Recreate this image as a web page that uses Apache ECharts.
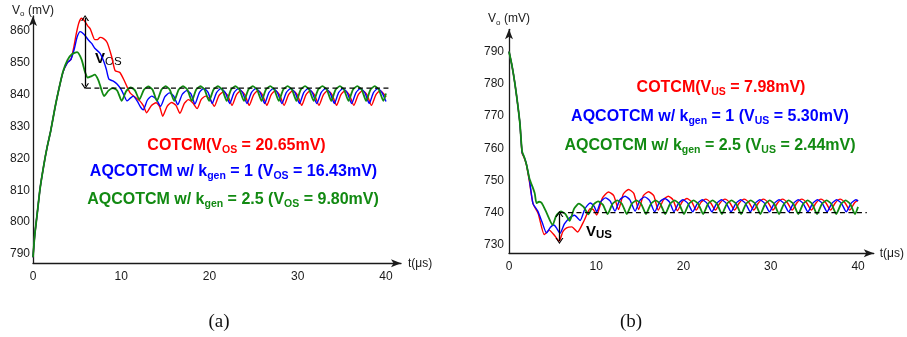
<!DOCTYPE html>
<html><head><meta charset="utf-8">
<script src="https://cdn.jsdelivr.net/npm/echarts@6/dist/echarts.min.js"></script>
<style>html,body{margin:0;padding:0;background:#fff}#c{width:907px;height:337px}</style>
</head><body><div id="c"></div>
<script>
// ---------- tick labels ----------
const ticksAx = [0, 10, 20, 30, 40];
const ticksAy = [790, 800, 810, 820, 830, 840, 850, 860];
const ticksBx = [0, 10, 20, 30, 40];
const ticksBy = [730, 740, 750, 760, 770, 780, 790];

// ---------- reference levels / annotation points (t in us, V in mV) ----------
const dashA = [[6.0, 842], [40.45, 842]];
const arrowA = [[5.9, 864.0], [5.9, 842.6]];
const dashB = [[5.78, 740], [41.0, 740]];
const arrowB = [[5.78, 739.6], [5.78, 731.2]];

// ---------- (a) load step-down : overshoot ----------
const redA = [[0,789],[0.2,796],[0.45,802],[0.8,810.5],[1.2,817.5],[1.6,823.5],[2.0,828.5],[2.5,836],[2.9,841.3],[3.4,847],[3.9,850],[4.3,851],[4.6,854.5],[4.9,859],[5.2,862.5],[5.5,863.9],[5.85,863],[6.2,861.5],[6.5,860.5],[7.0,857.2],[7.3,857.2],[7.6,857.9],[8.0,857.5],[8.4,856.3],[8.9,852],[9.3,847.5],[9.85,846.9],[10.4,844],[11.0,840.5],[11.55,839.2],[12.1,838],[12.5,836.5],[12.88,834.3],
[13.4,836.5],[13.95,837.4],[14.35,836.2],[14.7,833.2],
[15.2,836.3],[15.7,837.5],[16.2,836.6],[16.65,834.1],
[17.15,837.2],[17.6,838.4],[18.1,837.4],[18.6,835.6],
[19.05,838.4],[19.55,839.5],[20.05,838.6],[20.55,836.3],
[21.05,839.6],[21.55,840.8],[22.05,839.8],[22.55,836.6],
[23.05,839.9],[23.55,841.2],[24.02,839.9],[24.5,836.6],
[25.0,839.9],[25.5,841.2],[26.0,839.9],[26.5,836.6],
[26.98,839.9],[27.48,841.2],[27.95,839.9],[28.45,836.6],
[28.95,839.9],[29.45,841.2],[29.95,839.9],[30.45,836.6],
[30.93,839.9],[31.43,841.2],[31.9,839.9],[32.4,836.6],
[32.9,839.9],[33.4,841.2],[33.9,839.9],[34.4,836.6],
[34.88,839.9],[35.38,841.2],[35.85,839.9],[36.35,836.6],
[36.85,839.9],[37.35,841.2],[37.85,839.9],[38.35,836.6],
[38.85,839.9],[39.35,841.2],[39.85,839.9],[40,839.2]];

const blueA = [[0,789],[0.2,796],[0.45,802],[0.8,810.5],[1.2,817.5],[1.6,823.5],[2.0,828.5],[2.5,836],[2.9,841.3],[3.4,847],[3.9,850],[4.3,851],[4.7,854.5],[5.0,858],[5.35,859.7],[5.8,858.8],[6.3,857],[6.65,856],[7.0,854.5],[7.6,852.9],[8.0,850.5],[8.3,848],[8.6,844.8],[9.1,844.2],[9.55,843.2],[10.0,841.5],[10.3,839.8],[10.65,838],[11.0,838.8],[11.35,839.5],[11.8,838],[12.2,836],[12.5,835.2],
[12.95,838.2],[13.45,839.5],[13.95,838.6],[14.45,836.3],
[14.95,839.3],[15.45,840.5],[15.95,839.5],[16.4,836.8],
[16.9,840],[17.4,841.2],[17.9,840.2],[18.35,837],
[18.85,840.6],[19.35,841.9],[19.85,840.6],[20.3,837.2],
[20.8,840.6],[21.3,841.9],[21.8,840.6],[22.3,837.2],
[22.78,840.6],[23.28,841.9],[23.75,840.6],[24.25,837.2],
[24.75,840.6],[25.25,841.9],[25.75,840.6],[26.25,837.2],
[26.73,840.6],[27.23,841.9],[27.7,840.6],[28.2,837.2],
[28.7,840.6],[29.2,841.9],[29.7,840.6],[30.2,837.2],
[30.68,840.6],[31.18,841.9],[31.65,840.6],[32.15,837.2],
[32.65,840.6],[33.15,841.9],[33.65,840.6],[34.15,837.2],
[34.63,840.6],[35.13,841.9],[35.6,840.6],[36.1,837.2],
[36.6,840.6],[37.1,841.9],[37.6,840.6],[38.1,837.2],
[38.58,840.6],[39.08,841.9],[39.55,840.6],[40,837.8]];

const greenA = [[0,789],[0.2,796],[0.45,802],[0.8,810.5],[1.2,817.5],[1.6,823.5],[2.0,828.5],[2.5,836],[2.9,841.3],[3.4,847.2],[3.9,850.8],[4.4,852.6],[5.0,853.3],[5.5,851],[5.9,847],[6.2,845.3],[6.6,845.7],[7.0,846.2],[7.4,844.5],[7.7,842],[8.05,839.5],
[8.55,841.2],[9.05,842],[9.55,841.2],[10.05,838],
[10.55,841],[11.05,842.2],[11.55,841.3],[12.05,838.4],
[12.55,841.4],[13.05,842.5],[13.55,841.5],[14.05,838],
[14.55,841.5],[15.03,842.6],[15.5,841.5],[16.0,838],
[16.5,841.5],[17.0,842.6],[17.5,841.5],[18.0,838],
[18.48,841.5],[18.98,842.6],[19.45,841.5],[19.95,838],
[20.45,841.5],[20.95,842.6],[21.45,841.5],[21.95,838],
[22.43,841.5],[22.93,842.6],[23.4,841.5],[23.9,838],
[24.4,841.5],[24.9,842.6],[25.4,841.5],[25.9,838],
[26.38,841.5],[26.88,842.6],[27.35,841.5],[27.85,838],
[28.35,841.5],[28.85,842.6],[29.35,841.5],[29.85,838],
[30.33,841.5],[30.83,842.6],[31.3,841.5],[31.8,838],
[32.3,841.5],[32.8,842.6],[33.3,841.5],[33.8,838],
[34.28,841.5],[34.78,842.6],[35.25,841.5],[35.75,838],
[36.25,841.5],[36.75,842.6],[37.25,841.5],[37.75,838],
[38.23,841.5],[38.73,842.6],[39.2,841.5],[39.7,838],
[40,840.3]];

// ---------- (b) load step-up : undershoot ----------
const redB = [[0,790],[0.35,785.5],[0.68,780],[1.0,773.5],[1.25,767.7],[1.5,758.5],[1.75,757],[2.0,754.8],[2.35,749.5],[2.75,742.8],[3.35,739.7],[4.05,733.2],[4.6,734.6],[5.2,733],[5.75,731.2],[6.15,734],[6.6,735.3],[7.2,735.6],[7.85,734],[8.6,737.5],[9.3,741.2],[9.65,741],[10.05,739.3],
[10.7,744.5],[11.4,746.4],[12.0,745.3],[12.55,741],
[13.1,745.8],[13.7,747.2],[14.3,746],[14.85,741],
[15.4,745.3],[16.0,746.5],[16.6,745.2],[17.1,740.8],
[17.7,744],[18.25,745.1],[18.8,744],[19.3,740.6],
[19.85,743.4],[20.4,744.4],[20.95,743.3],[21.45,740.8],
[22.0,743.2],[22.55,744.2],[23.1,743.1],[23.65,740.8],
[24.2,743.1],[24.75,744.2],[25.3,743.1],[25.85,740.8],
[26.4,743.1],[26.95,744.2],[27.5,743.1],[28.05,740.8],
[28.6,743.1],[29.15,744.2],[29.7,743.1],[30.25,740.8],
[30.8,743.1],[31.35,744.2],[31.9,743.1],[32.45,740.8],
[33.0,743.1],[33.55,744.2],[34.1,743.1],[34.65,740.8],
[35.2,743.1],[35.75,744.2],[36.3,743.1],[36.85,740.8],
[37.4,743.1],[37.95,744.2],[38.5,743.1],[39.05,740.8],
[39.6,743.1],[40,743.9]];

const blueB = [[0,790],[0.35,785.5],[0.68,780],[1.0,773.5],[1.25,767.7],[1.5,758.7],[1.75,757.2],[2.0,755],[2.35,750],[2.75,742.8],[3.3,740.5],[3.8,737],[4.3,733.7],[4.75,735.5],[5.15,736.2],[5.5,735],[5.85,733.6],[6.35,736.5],[6.9,738.3],[7.5,739.2],[8.15,737.6],[8.7,741.2],[9.3,743],[9.75,742],[10.05,740.3],
[10.5,743.4],[11.05,744.6],[11.6,743.6],[12.15,740.5],
[12.7,744],[13.3,745.1],[13.85,744],[14.45,740.5],
[15.0,743.8],[15.55,744.9],[16.1,743.8],[16.7,740.3],
[17.25,743.3],[17.85,744.4],[18.4,743.3],[18.9,740.3],
[19.45,743],[19.95,744],[20.5,742.9],[21.05,740.3],
[21.6,742.9],[22.15,744],[22.7,742.9],[23.25,740.3],
[23.8,742.9],[24.35,744],[24.9,742.9],[25.45,740.3],
[26.0,742.9],[26.55,744],[27.1,742.9],[27.65,740.3],
[28.2,742.9],[28.75,744],[29.3,742.9],[29.85,740.3],
[30.4,742.9],[30.95,744],[31.5,742.9],[32.05,740.3],
[32.6,742.9],[33.15,744],[33.7,742.9],[34.25,740.3],
[34.8,742.9],[35.35,744],[35.9,742.9],[36.45,740.3],
[37.0,742.9],[37.55,744],[38.1,742.9],[38.65,740.3],
[39.2,742.9],[39.75,744],[40,743.6]];

const greenB = [[0,790],[0.35,785.5],[0.68,780],[1.0,773.5],[1.25,767.7],[1.5,759],[1.75,757.2],[2.0,755],[2.35,750.5],[2.7,748],[2.95,746],[3.15,743],[3.45,743.4],[3.75,743],[4.3,740],[5.0,736.2],
[5.4,739],[5.95,740.4],[6.45,739.6],[6.95,737.5],
[7.45,741.2],[8.0,742.8],[8.55,741.8],[9.1,739.5],
[9.65,742.4],[10.2,743.5],[10.75,742.5],[11.3,739.6],
[11.85,742.7],[12.4,743.8],[12.95,742.7],[13.5,739.6],
[14.05,742.7],[14.6,743.8],[15.15,742.7],[15.7,739.6],
[16.25,742.7],[16.8,743.8],[17.35,742.7],[17.9,739.6],
[18.45,742.7],[18.98,743.8],[19.5,742.7],[20.05,739.6],
[20.6,742.7],[21.15,743.8],[21.7,742.7],[22.25,739.6],
[22.8,742.7],[23.33,743.8],[23.85,742.7],[24.4,739.6],
[24.95,742.7],[25.5,743.8],[26.05,742.7],[26.6,739.6],
[27.15,742.7],[27.7,743.8],[28.25,742.7],[28.8,739.6],
[29.35,742.7],[29.88,743.8],[30.4,742.7],[30.95,739.6],
[31.5,742.7],[32.05,743.8],[32.6,742.7],[33.15,739.6],
[33.7,742.7],[34.23,743.8],[34.75,742.7],[35.3,739.6],
[35.85,742.7],[36.4,743.8],[36.95,742.7],[37.5,739.6],
[38.05,742.7],[38.58,743.8],[39.1,742.7],[39.65,739.6],
[40,741.8]];

// ---------- styling ----------
const FONT = "'Liberation Sans', Arial, sans-serif";
const RED = '#ff0000', BLUE = '#0000ff', GREEN = '#128a12', AX = '#1a1a1a';
const chevron = 'path://M0,10L5,0L10,10L8.4,10L5,3.2L1.6,10Z';

function xAxisCfg(grid, max, ticks, gap) {
  return {
    type: 'value', gridIndex: grid, min: 0, max: max,
    name: 't(\u03bcs)', nameLocation: 'end', nameGap: gap,
    nameTextStyle: { fontFamily: FONT, fontSize: 12, color: AX },
    axisLine: { show: true, symbol: ['none', 'arrow'], symbolSize: [6, 10], lineStyle: { color: AX, width: 1.3 } },
    axisTick: { show: false }, splitLine: { show: false },
    axisLabel: { customValues: ticks, fontFamily: FONT, fontSize: 12, color: AX, margin: 7 }
  };
}
function yAxisCfg(grid, min, max, ticks, gap, lm) {
  return {
    type: 'value', gridIndex: grid, min: min, max: max,
    name: 'V{s|o} (mV)', nameLocation: 'end', nameGap: gap,
    nameTextStyle: { fontFamily: FONT, fontSize: 12, color: AX, lineHeight: 15,
      rich: { s: { fontFamily: FONT, fontSize: 8, color: AX, lineHeight: 12, verticalAlign: 'bottom' } } },
    axisLine: { show: true, symbol: ['none', 'arrow'], symbolSize: [6, 10], lineStyle: { color: AX, width: 1.3 } },
    axisTick: { show: false }, splitLine: { show: false },
    axisLabel: { customValues: ticks, fontFamily: FONT, fontSize: 12, color: AX, margin: lm }
  };
}
function curve(name, data, xi, color, width, z) {
  return { name: name, type: 'line', xAxisIndex: xi, yAxisIndex: xi, data: data,
    symbol: 'none', smooth: 0.2, clip: false, z: z,
    lineStyle: { color: color, width: width }, emphasis: { disabled: true } };
}
function refLine(data, arrow, xi) {
  return { type: 'line', xAxisIndex: xi, yAxisIndex: xi, data: data, symbol: 'none', z: 5,
    lineStyle: { color: '#000', width: 1.3, type: [5, 3.5] }, emphasis: { disabled: true },
    markLine: { silent: true, animation: false, symbol: [chevron, chevron], symbolSize: [8, 6],
      label: { show: false }, lineStyle: { color: '#000', width: 1.3, type: 'solid' },
      data: [[{ coord: arrow[0] }, { coord: arrow[1] }]] } };
}
function annot(x, y, c, parts) {
  const rich = {
    m: { fill: c, color: c, fontFamily: FONT, fontWeight: 'bold', fontSize: 16, lineHeight: 20 },
    s: { fill: c, color: c, fontFamily: FONT, fontWeight: 'bold', fontSize: 10.5, lineHeight: 13, verticalAlign: 'bottom' }
  };
  const text = parts.map((p, i) => '{' + (i % 2 ? 's' : 'm') + '|' + p + '}').join('');
  return { type: 'text', x: x, y: y, silent: true,
    style: { text: text, rich: rich, align: 'center', verticalAlign: 'middle', textAlign: 'center', textVerticalAlign: 'middle' } };
}
function vlabel(x, y, sub, subBold) {
  return { type: 'text', x: x, y: y, silent: true,
    style: { text: '{v|V}{s|' + sub + '}', align: 'left', verticalAlign: 'middle', textAlign: 'left', textVerticalAlign: 'middle',
      rich: { v: { fill: '#000', fontFamily: FONT, fontWeight: 'bold', fontSize: 15, lineHeight: 18 },
              s: { fill: '#000', fontFamily: FONT, fontWeight: subBold ? 'bold' : 'normal', fontSize: 11.5, lineHeight: 13, verticalAlign: 'bottom' } } } };
}
function caption(x, y, t) {
  return { type: 'text', x: x, y: y, silent: true,
    style: { text: t, fill: '#111', font: "19px 'Liberation Serif', 'Times New Roman', serif",
      align: 'center', verticalAlign: 'middle', textAlign: 'center', textVerticalAlign: 'middle' } };
}

const chart = echarts.init(document.getElementById('c'), null, { renderer: 'canvas' });
chart.setOption({
  animation: false,
  backgroundColor: '#fff',
  grid: [
    { left: 33, top: 16, width: 368, height: 247.3 },
    { left: 509, top: 29.3, width: 368.7, height: 224 }
  ],
  xAxis: [xAxisCfg(0, 41.7, ticksAx, 7), xAxisCfg(1, 41.8, ticksBx, 6)],
  yAxis: [yAxisCfg(0, 787.1, 864.6, ticksAy, -2, 3), yAxisCfg(1, 727.4, 796.9, ticksBy, 3, 5)],
  series: [
    curve('COTCM', redA, 0, RED, 1.4, 2),
    curve('AQCOTCM kgen=1', blueA, 0, BLUE, 1.4, 3),
    curve('AQCOTCM kgen=2.5', greenA, 0, GREEN, 1.8, 4),
    refLine(dashA, arrowA, 0),
    curve('COTCM', redB, 1, RED, 1.4, 2),
    curve('AQCOTCM kgen=1', blueB, 1, BLUE, 1.4, 3),
    curve('AQCOTCM kgen=2.5', greenB, 1, GREEN, 1.8, 4),
    refLine(dashB, arrowB, 1)
  ],
  graphic: [
    annot(236.5, 146, RED, ['COTCM(V', 'OS', ' = 20.65mV)']),
    annot(233.5, 172, BLUE, ['AQCOTCM w/ k', 'gen', ' = 1 (V', 'OS', ' = 16.43mV)']),
    annot(233, 200, GREEN, ['AQCOTCM w/ k', 'gen', ' = 2.5 (V', 'OS', ' = 9.80mV)']),
    annot(721, 88, RED, ['COTCM(V', 'US', ' = 7.98mV)']),
    annot(710, 117, BLUE, ['AQCOTCM w/ k', 'gen', ' = 1 (V', 'US', ' = 5.30mV)']),
    annot(710, 146, GREEN, ['AQCOTCM w/ k', 'gen', ' = 2.5 (V', 'US', ' = 2.44mV)']),
    vlabel(95, 59, 'OS', false),
    vlabel(586, 232, 'US', true),
    caption(219, 322, '(a)'),
    caption(631, 322, '(b)')
  ]
});
</script>
</body></html>
